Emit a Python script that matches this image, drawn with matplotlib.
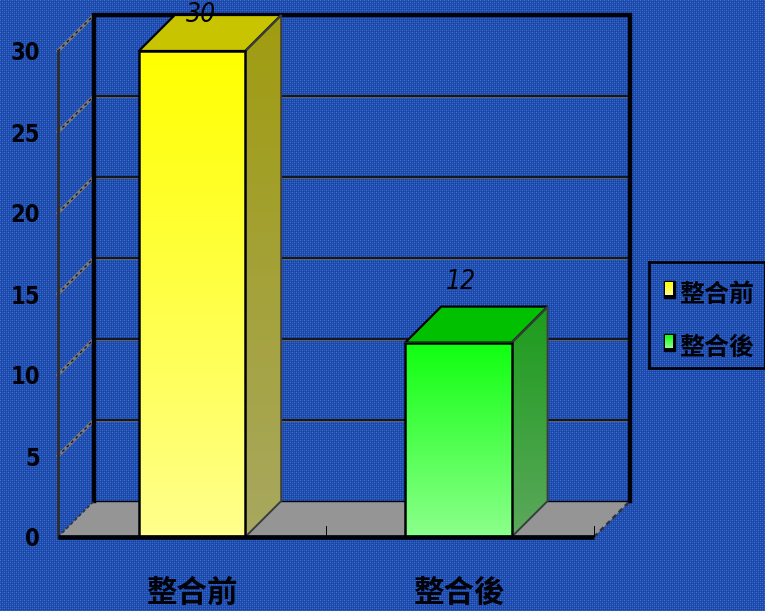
import matplotlib
matplotlib.use('Agg')
import matplotlib.pyplot as plt
from matplotlib.patches import Polygon, Rectangle
from matplotlib.colors import to_rgb
import numpy as np

plt.rcParams['font.family'] = ['Noto Sans CJK TC', 'DejaVu Sans']

categories = ['整合前', '整合後']
values = [30, 12]
y_ticks = [0, 5, 10, 15, 20, 25, 30]

W, H = 765, 611
BLACK = '#00020a'
NUM_FONT = 'DejaVu Sans'

# top, side-high, side-low, front-high, front-low
yellow = ('#c8c400', '#a09c10', '#a8a860', '#ffff00', '#ffff8c')
green = ('#00c000', '#1c9c1c', '#5ca85c', '#10ff10', '#8cff8c')
colors = [yellow, green]


def v_grad(c0, c1, n=128):
    t = np.linspace(0, 1, n)[:, None, None]
    return (1 - t) * np.array(to_rgb(c0)) + t * np.array(to_rgb(c1))


fig = plt.figure(figsize=(W / 100, H / 100), dpi=100)

# woven blue background
bg = fig.add_axes([0, 0, 1, 1])
bg.set_axis_off()
tile = np.array([
    [0.36, 0.10, 0.22, 0.10],
    [0.10, 0.00, 0.10, 0.00],
    [0.22, 0.10, 0.36, 0.10],
    [0.10, 0.00, 0.10, 0.00],
])
tex = np.tile(tile, (H // 4 + 1, W // 4 + 1))[:H, :W]
base = np.array(to_rgb('#1544a6'))
light = np.array(to_rgb('#6c96ec'))
bg.imshow(np.clip(base + tex[..., None] * (light - base) * 1.4, 0, 1), interpolation='nearest',
          extent=(0, W, H, 0), aspect='auto')

# pixel frame of the 3D box: front plane + 36px depth
x0, x1, y0, y1, depth = 58, 594, 537, 51, 36
x_unit = (x1 - x0) / 2
y_unit = (y0 - y1) / 30
dx = depth / x_unit
dy = depth / y_unit

ax = fig.add_axes([x0 / W, 1 - y0 / H, (x1 + depth - x0) / W, (y0 - y1 + depth) / H])
ax.patch.set_visible(False)
for s in ax.spines.values():
    s.set_visible(False)

xs = [0.5, 1.494]
bw = 0.397

# floor
ax.add_patch(Polygon([(0, 0), (2, 0), (2 + dx, dy), (dx, dy)], fc='#959595',
                     ec='none', clip_on=False, zorder=1))
# gridlines on the back wall and the left wall
for t in y_ticks[1:]:
    ax.plot([dx, 2 + dx], [t + dy - 0.09, t + dy - 0.09], color='#6a6c74', lw=1.4,
            clip_on=False, zorder=1, solid_capstyle='butt')
    ax.plot([dx, 2 + dx], [t + dy + 0.03, t + dy + 0.03], color='#15171e', lw=1.6,
            clip_on=False, zorder=1, solid_capstyle='butt')
    ax.plot([0, dx], [t, t + dy], color='#787a80', lw=2.4, clip_on=False, zorder=1)
    ax.plot([0, dx], [t, t + dy], color='#14161c', lw=1.0, ls=(0, (2, 2.5)),
            clip_on=False, zorder=1)
# walls
ax.plot([dx, dx, 2 + dx, 2 + dx], [dy, 30 + dy, 30 + dy, dy], color=BLACK, lw=3.2,
        clip_on=False, zorder=2, solid_joinstyle='miter')
ax.plot([dx, 2 + dx], [dy, dy], color=BLACK, lw=1.0, clip_on=False, zorder=2)
ax.plot([0, 0], [0, 30], color='#2c2e34', lw=2.2, clip_on=False, zorder=2)
ax.plot([0, dx], [0, dy], color='#30323a', lw=1.2, ls=(0, (2, 1.5)), clip_on=False, zorder=2)
ax.plot([2, 2 + dx], [0, dy], color='#30323a', lw=1.8, ls=(0, (2, 1.5)), clip_on=False, zorder=2)
ax.plot([0, 2], [0, 0], color=BLACK, lw=3.4, clip_on=False, zorder=6, solid_capstyle='butt')
ax.plot([1, 1], [0, 0.7], color=BLACK, lw=0.7, zorder=2)
ax.plot([2, 2], [0, 0.7], color=BLACK, lw=0.7, zorder=2)

# bars
label_shift = [(0.034, 0.0), (0.01, 1.5)]
for x, v, c, cat, (sx, sy) in zip(xs, values, colors, categories, label_shift):
    l, r = x - bw / 2, x + bw / 2
    ax.add_patch(Polygon([(l, v), (r, v), (r + dx, v + dy), (l + dx, v + dy)], fc=c[0],
                         ec=BLACK, lw=1.6, clip_on=False, zorder=4))
    side_pts = [(r, 0), (r + dx, dy), (r + dx, v + dy), (r, v)]
    im = ax.imshow(v_grad(c[1], c[2]), extent=(r, r + dx, 0, v + dy), aspect='auto',
                   zorder=3, interpolation='bilinear')
    im.set_clip_path(Polygon(side_pts, transform=ax.transData))
    ax.add_patch(Polygon(side_pts, fc='none', ec='#3a3c40', lw=1.4, clip_on=False, zorder=4))
    ax.imshow(v_grad(c[3], c[4]), extent=(l, r, 0, v), aspect='auto', zorder=4,
              interpolation='bilinear')
    ax.add_patch(Rectangle((l, 0), bw, v, fc='none', ec=BLACK, lw=1.8, zorder=5))
    # value label
    ax.text(x + sx, v + dy + sy, str(v), ha='center', va='center', family=NUM_FONT,
            stretch='condensed', style='italic', fontsize=19, color=BLACK, clip_on=False, zorder=7)
    # category label
    ax.annotate(cat, (x, 0), xytext=(0, -40), textcoords='offset points', ha='center',
                va='center', fontsize=22, fontweight='bold', color=BLACK, annotation_clip=False)
ax.set_xlim(0, 2 + dx)
ax.set_ylim(0, 30 + dy)

ax.set_xticks([])
ax.set_yticks(y_ticks)
ax.set_yticklabels(y_ticks, family=NUM_FONT, stretch='condensed', fontweight='bold',
                   fontsize=17, color=BLACK)
ax.tick_params(axis='y', length=0, pad=13)

# legend
leg = fig.add_axes([649 / W, 1 - 368 / H, 116 / W, 106 / H])
leg.set_xticks([])
leg.set_yticks([])
leg.patch.set_visible(False)
for name, s in leg.spines.items():
    s.set_color(BLACK)
    s.set_linewidth(2)
for c, cat, yc in zip(colors, categories, [289, 342]):
    leg.add_patch(Rectangle((664, yc - 8), 11, 17, fc=BLACK, ec=BLACK, lw=1, zorder=2))
    leg.imshow(v_grad(c[3], c[4]), extent=(665, 673, yc + 6, yc - 7), aspect='auto', zorder=3)
    leg.text(679, yc + 6, cat, ha='left', va='center', fontsize=18, fontweight='bold', color=BLACK)
leg.set_xlim(649, 765)
leg.set_ylim(368, 262)

fig.savefig('out.png', dpi=100)
